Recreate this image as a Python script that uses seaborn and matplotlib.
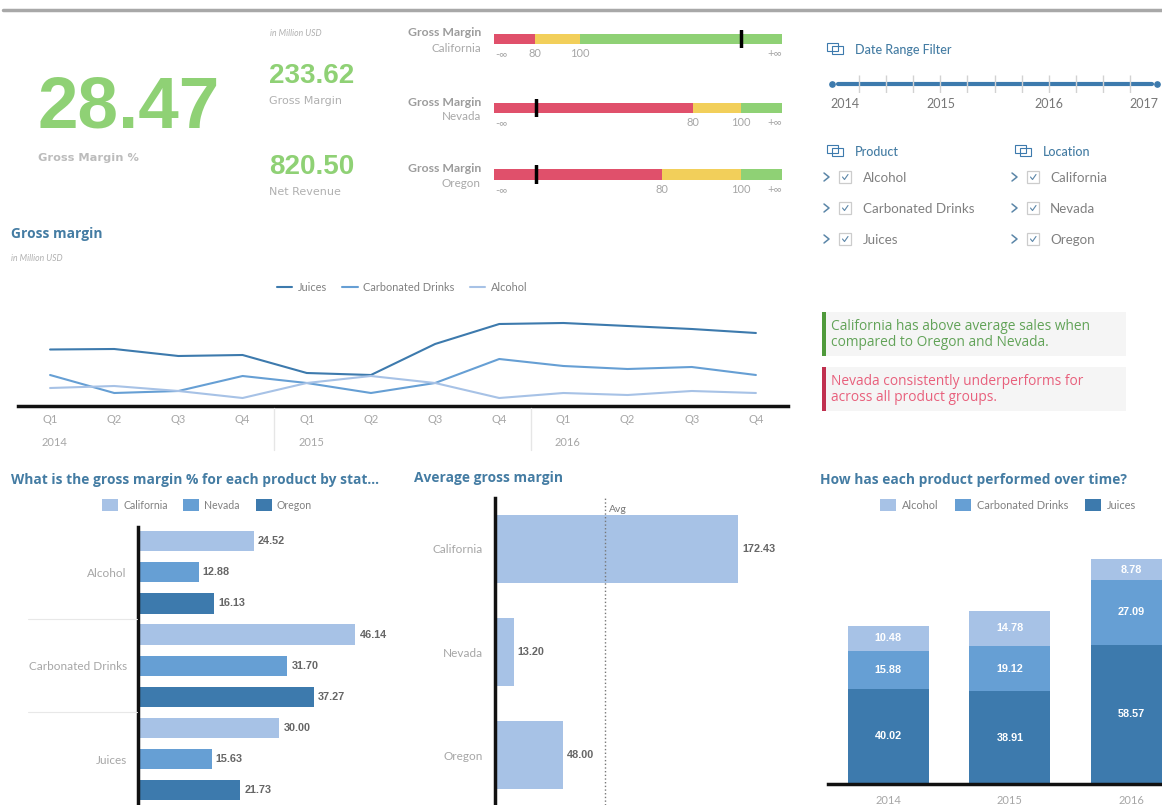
import numpy as np
import pandas as pd
import matplotlib
matplotlib.use("Agg")
import matplotlib.pyplot as plt
from matplotlib.patches import Rectangle
import seaborn as sns

W, H = 1162, 805

# kpis
kpi_main = "28.47"
kpi_margin = "233.62"
kpi_revenue = "820.50"

# bullet charts: width of red and yellow ranges, marker, on a 0-288 scale
states = ["California", "Nevada", "Oregon"]
bullet_red = [41, 199, 168]
bullet_yellow = [45, 48, 79]
bullet_green = [202, 41, 41]
bullet_marker = [247, 42, 42]

# line chart
quarters = ["Q1", "Q2", "Q3", "Q4"] * 3
years = ["2014", "2015", "2016"]
juices = [56.5, 57, 50, 51, 33, 31, 62, 82, 83, 80, 77, 73]
carbonated = [31, 13, 15, 30, 23, 13, 23, 47, 40, 37, 39, 31]
alcohol = [18, 20, 15, 8, 23, 30, 23, 8, 13, 11, 15, 13]

# gross margin % by product and state
products = ["Alcohol", "Carbonated Drinks", "Juices"]
california_pct = [24.52, 46.14, 30.00]
nevada_pct = [12.88, 31.70, 15.63]
oregon_pct = [16.13, 37.27, 21.73]

# average gross margin
avg_margin = [172.43, 13.20, 48.00]

# stacked bars
alcohol_year = [10.48, 14.78, 8.78]
carbonated_year = [15.88, 19.12, 27.09]
juices_year = [40.02, 38.91, 58.57]

LIGHT, MID, DARK = "#a7c2e6", "#669fd4", "#3d7aad"
GREEN, RED, YELLOW = "#8fd175", "#e0506b", "#f2cf5a"
TITLE = "#447ca3"
GREY = "#a6a6a6"
BAR_TEXT = "#666666"

sns.set_theme(style="white")
plt.rcParams["font.family"] = ["Lato", "DejaVu Sans"]
plt.rcParams["axes.linewidth"] = 2.5

fig = plt.figure(figsize=(W / 100, H / 100), dpi=100)


def px_axes(x0, y0, x1, y1):
    return fig.add_axes([x0 / W, 1 - y1 / H, (x1 - x0) / W, (y1 - y0) / H])


page = fig.add_axes([0, 0, 1, 1], zorder=10)
page.set_xlim(0, W)
page.set_ylim(H, 0)
page.axis("off")


def label(x, y, s, size=8.5, color=GREY, ha="left", **kw):
    page.text(x, y, s, fontsize=size, color=color, ha=ha, va="center", **kw)


def title(x, y, s):
    label(x, y, s, size=9.9, color=TITLE, weight="bold", family="Open Sans")


def filter_icon(x, y):
    page.add_patch(Rectangle((x, y - 5), 11, 8, fill=False, ec=DARK, lw=0.8))
    page.add_patch(Rectangle((x + 5, y - 2), 11, 8, fill=False, ec=DARK, lw=0.8))


def value_labels(ax):
    for c in ax.containers:
        ax.bar_label(c, fmt="%.2f", padding=3, fontsize=7.8, color=BAR_TEXT, weight="bold",
                     family="Liberation Sans")


page.plot([3, W], [10, 10], color="#a8a8a8", lw=2.5)

# kpis
label(38, 109, kpi_main, size=52.5, color=GREEN, family="Liberation Sans", weight="bold")
label(38, 158, "Gross Margin %", size=8.2, family="DejaVu Sans", weight="bold", color="#bcbcbc")
label(270, 33, "in Million USD", size=6.2, style="italic", color="#b0b0b0")
label(269, 76, kpi_margin, size=20, color=GREEN, family="Liberation Sans", weight="bold")
label(269, 101, "Gross Margin", size=8, family="DejaVu Sans", color="#b0b0b0")
label(269, 167, kpi_revenue, size=20, color=GREEN, family="Liberation Sans", weight="bold")
label(269, 192, "Net Revenue", size=8, family="DejaVu Sans", color="#b0b0b0")

# bullets
bullet_rows = [(30, 48), (99, 117), (165, 184)]
for i, (top, bottom) in enumerate(bullet_rows):
    ax = px_axes(494, top, 782, bottom)
    red, yellow, green = bullet_red[i], bullet_yellow[i], bullet_green[i]
    df = pd.DataFrame({
        "range": ["green", "yellow", "red"],
        "value": [red + yellow + green, red + yellow, red],
        "state": [states[i]] * 3,
    })
    sns.barplot(df, x="value", y="state", hue="range", dodge=False, width=0.55, ax=ax, legend=False,
                palette={"green": GREEN, "yellow": YELLOW, "red": RED}, saturation=1, linewidth=0)
    ax.axvline(bullet_marker[i], color="black", lw=2.5)
    ax.set_xlim(0, 288)
    ax.set_ylabel("")
    ax.set_xlabel("")
    ax.set_yticks([])
    ax.set_xticks([7, red, red + yellow, 281], ["-∞", "80", "100", "+∞"], fontsize=8, color=GREY)
    ax.tick_params(axis="x", length=0, pad=0)
    sns.despine(ax=ax, left=True, bottom=True)
    mid = (top + bottom) / 2
    label(481, mid - 6, "Gross Margin", size=8.8, ha="right", weight="bold", color="#9c9c9c")
    label(481, mid + 9, states[i], size=8.4, ha="right", color="#a8a8a8")

# filters
filter_icon(827, 48)
label(855, 50, "Date Range Filter", size=9, color=TITLE, weight="medium")
ax = px_axes(832, 75, 1157, 93)
sns.lineplot(x=[0.22, 11.8], y=[0, 0], color=DARK, lw=3, ax=ax, legend=False)
ax.plot([0, 12], [0, 0], "o", color=DARK, ms=3.8, clip_on=False)
ax.set_xlim(0, 12)
ax.set_ylim(-1, 1)
ax.set_xticks([])
ax.set_yticks([])
ax.vlines(range(1, 12), -1, 1, color="#d2d2d2", lw=1)
sns.despine(ax=ax, left=True, bottom=True)
for x, yr in zip([830, 926, 1034, 1129], ["2014", "2015", "2016", "2017"]):
    label(x, 104, yr, size=9, color="#777777")

filter_icon(827, 150)
label(855, 152.5, "Product", size=9, color=TITLE, weight="medium")
filter_icon(1015, 150)
label(1043, 152.5, "Location", size=9, color=TITLE, weight="medium")
for col_x, names in [(823, products), (1011, states)]:
    for y, name in zip([177, 208, 239], names):
        page.plot([col_x + 1, col_x + 6, col_x + 1], [y - 4, y, y + 4], color="#5b86a8", lw=1.1)
        page.add_patch(Rectangle((col_x + 16, y - 6), 12, 12, fill=False, ec="#cccccc", lw=0.9))
        page.plot([col_x + 19.5, col_x + 21.5, col_x + 25], [y, y + 2.5, y - 2.5], color="#5b86a8", lw=0.8)
        label(col_x + 40 if col_x == 823 else col_x + 39, y + 0.8, name, size=9.6, color="#808080")

# line chart
title(11, 234, "Gross margin")
label(11, 258, "in Million USD", size=6.2, style="italic", color="#b0b0b0")
ax = px_axes(18, 300, 788, 406)
lines = pd.DataFrame({
    "idx": list(range(12)) * 3,
    "value": juices + carbonated + alcohol,
    "product": ["Juices"] * 12 + ["Carbonated Drinks"] * 12 + ["Alcohol"] * 12,
})
sns.lineplot(lines, x="idx", y="value", hue="product", ax=ax, lw=1.5,
             palette={"Juices": DARK, "Carbonated Drinks": MID, "Alcohol": LIGHT})
ax.set_xlim(-0.5, 11.5)
ax.set_ylim(0, 106)
ax.set_xlabel("")
ax.set_ylabel("")
ax.set_yticks([])
ax.set_xticks(range(12), quarters, fontsize=8, color=GREY)
ax.tick_params(axis="x", length=0, pad=6)
sns.despine(ax=ax, left=True)
ax.spines["bottom"].set_color("#111111")
sns.move_legend(ax, "center", bbox_to_anchor=(402, 287), bbox_transform=page.transData, ncol=3,
                frameon=False, title=None, fontsize=7.9, handlelength=1.4, columnspacing=1.4,
                handletextpad=0.5, labelcolor="#808080")
for x, yr in zip([42, 299, 555], years):
    label(x, 442.5, yr, size=8)
for x in [274, 531]:
    page.plot([x, x], [408, 450], color="#e6e6e6", lw=1)

# insight boxes
for top, bar, col, txt in [
    (312, "#4f9a3b", "#62a358", ["California has above average sales when", "compared to Oregon and Nevada."]),
    (367, "#c0304f", "#e8607c", ["Nevada consistently underperforms for", "across all product groups."]),
]:
    page.add_patch(Rectangle((822, top), 304, 44, color="#f5f5f5", lw=0))
    page.add_patch(Rectangle((822, top), 4, 44, color=bar, lw=0))
    label(831, top + 14, txt[0], size=9.9, color=col, family="Open Sans")
    label(831, top + 30, txt[1], size=9.9, color=col, family="Open Sans")

# gross margin % by product
title(11, 480, "What is the gross margin % for each product by stat...")
ax = px_axes(138, 527, 400, 805)
pct = pd.DataFrame({
    "product": products * 3,
    "value": california_pct + nevada_pct + oregon_pct,
    "state": ["California"] * 3 + ["Nevada"] * 3 + ["Oregon"] * 3,
})
sns.barplot(pct, x="value", y="product", hue="state", width=1, gap=0.35, ax=ax, saturation=1,
            palette={"California": LIGHT, "Nevada": MID, "Oregon": DARK}, linewidth=0)
ax.set_xlim(0, 55.6)
ax.set_ylim(2.49, -0.485)
value_labels(ax)
ax.set_xlabel("")
ax.set_ylabel("")
ax.set_xticks([])
ax.tick_params(axis="y", length=0, pad=8, labelsize=8.5, labelcolor=GREY)
sns.despine(ax=ax, bottom=True)
ax.spines["left"].set_color("#111111")
sns.move_legend(ax, "center", bbox_to_anchor=(207, 505), bbox_transform=page.transData, ncol=3,
                frameon=False, title=None, fontsize=7.6, handlelength=1.5, handleheight=1.3,
                columnspacing=1.5, handletextpad=0.5, labelcolor="#808080")
for y in [619, 712]:
    page.plot([28, 137], [y, y], color="#e8e8e8", lw=0.8)

# average gross margin
title(414, 478, "Average gross margin")
ax = px_axes(495, 498, 790, 805)
sns.barplot(x=avg_margin, y=states, color=LIGHT, saturation=1, width=0.66, ax=ax, linewidth=0)
ax.set_xlim(0, 209)
ax.set_ylim(2.485, -0.495)
value_labels(ax)
ax.axvline(np.mean(avg_margin), color="#777777", lw=1, ls=":")
ax.set_xticks([])
ax.tick_params(axis="y", length=0, pad=9, labelsize=8.5, labelcolor=GREY)
sns.despine(ax=ax, bottom=True)
ax.spines["left"].set_color("#111111")
label(609, 509, "Avg", size=7.5, color="#777777")

# stacked bars
title(820, 480, "How has each product performed over time?")
ax = px_axes(828, 540, W, 784)
stack_j = np.array(juices_year)
stack_c = stack_j + np.array(carbonated_year)
stack_a = stack_c + np.array(alcohol_year)
stack = pd.DataFrame({
    "year": years * 3,
    "value": list(stack_a) + list(stack_c) + list(stack_j),
    "product": ["Alcohol"] * 3 + ["Carbonated Drinks"] * 3 + ["Juices"] * 3,
})
sns.barplot(stack, x="year", y="value", hue="product", dodge=False, width=0.667, ax=ax, saturation=1,
            palette={"Alcohol": LIGHT, "Carbonated Drinks": MID, "Juices": DARK}, linewidth=0)
ax.set_xlim(-0.494, 2.25)
ax.set_ylim(0, 102.5)
for i in range(3):
    for base, val in [(0, juices_year[i]), (stack_j[i], carbonated_year[i]), (stack_c[i], alcohol_year[i])]:
        ax.text(i, base + val / 2, f"{val:.2f}", ha="center", va="center", color="white",
                fontsize=7.8, weight="bold", family="Liberation Sans", clip_on=True)
ax.set_xlabel("")
ax.set_ylabel("")
ax.set_yticks([])
ax.tick_params(axis="x", length=0, pad=8, labelsize=8, labelcolor=GREY)
sns.despine(ax=ax, left=True)
ax.spines["bottom"].set_color("#111111")
sns.move_legend(ax, "center", bbox_to_anchor=(1008, 505), bbox_transform=page.transData, ncol=3,
                frameon=False, title=None, fontsize=7.9, handlelength=1.5, handleheight=1.3,
                columnspacing=1.5, handletextpad=0.5, labelcolor="#808080")

fig.savefig("out.png", dpi=100)
